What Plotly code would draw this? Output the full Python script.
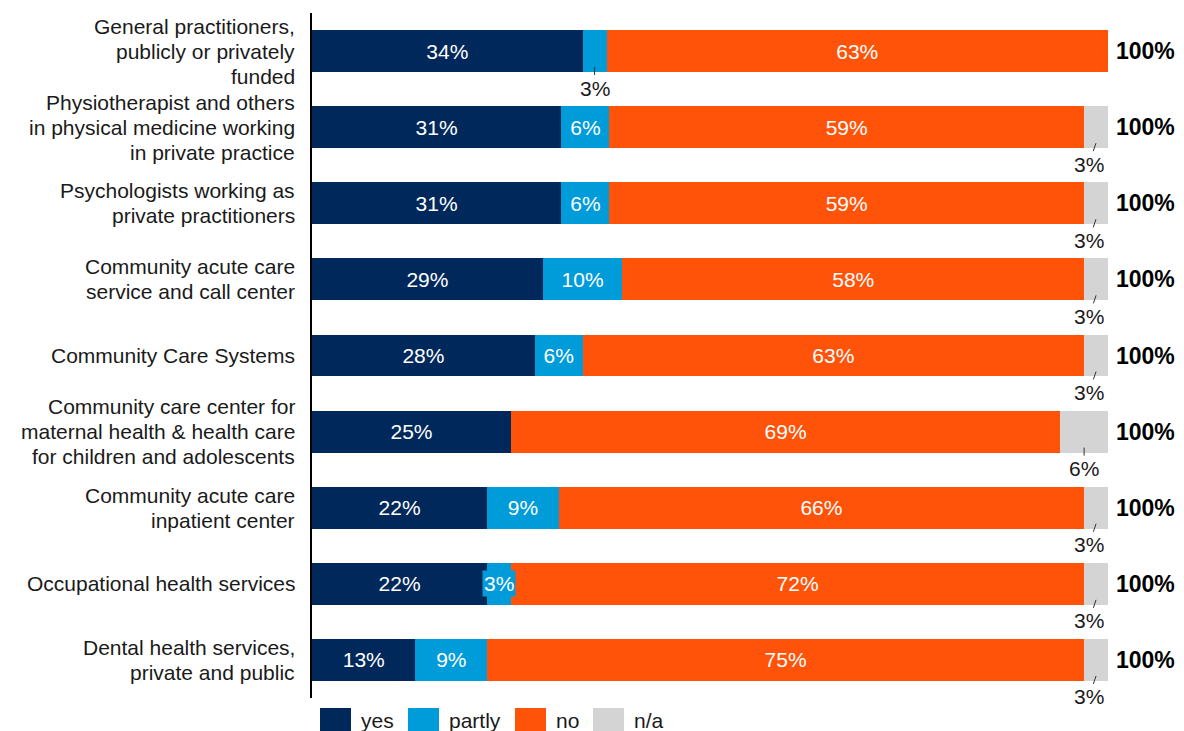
import plotly.graph_objects as go

# Survey answers per service (share of respondents, %)
categories = [
    "General practitioners,<br>publicly or privately<br>funded",
    "Physiotherapist and others<br>in physical medicine working<br>in private practice ",
    "Psychologists working as<br>private practitioners ",
    "Community acute care<br>service and call center",
    "Community Care Systems",
    "Community care center for<br>maternal health & health care<br>for children and adolescents",
    "Community acute care<br>inpatient center ",
    "Occupational health services",
    "Dental health services,<br>private and public",
]
yes_vals = [34, 31, 31, 29, 28, 25, 22, 22, 13]
partly_vals = [3, 6, 6, 10, 6, 0, 9, 3, 9]
no_vals = [63, 59, 59, 58, 63, 69, 66, 72, 75]
na_vals = [0, 3, 3, 3, 3, 6, 3, 3, 3]
total_labels = ["100%"] * 9

series = [
    ("yes", yes_vals, "#00285A"),
    ("partly", partly_vals, "#009BD9"),
    ("no", no_vals, "#FE5309"),
    ("n/a", na_vals, "#D4D4D4"),
]

FONT = "Liberation Sans, Arial, sans-serif"
TXT = "#1a1a1a"

# Small segments whose labels sit outside / on a box: (series, row)
outside = {("partly", 0), ("n/a", 1), ("n/a", 2), ("n/a", 3), ("n/a", 4),
           ("n/a", 5), ("n/a", 6), ("n/a", 7), ("n/a", 8)}
boxed = {("partly", 7)}

fig = go.Figure()
for name, vals, color in series:
    texts = []
    for i, v in enumerate(vals):
        if v == 0 or (name, i) in outside or (name, i) in boxed:
            texts.append("")
        else:
            texts.append(f"{v}%")
    fig.add_trace(go.Bar(
        name=name, y=categories, x=vals, orientation="h",
        marker=dict(color=color, line=dict(width=0)),
        width=0.55, text=texts, textposition="inside",
        insidetextanchor="middle", textangle=0, constraintext="none",
        textfont=dict(family=FONT, size=21, color="white"),
        hoverinfo="skip", showlegend=False,
    ))

annotations = []
totals = [sum(s[1][i] for s in series) for i in range(len(categories))]
for si, (name, vals, color) in enumerate(series):
    for i, v in enumerate(vals):
        if v == 0:
            continue
        before = sum(series[k][1][i] for k in range(si))
        mid = (before + v / 2) / totals[i] * 100
        if (name, i) in outside:
            vertical = (name == "partly") or v >= 5
            annotations.append(dict(
                x=mid, y=categories[i], xref="x", yref="y",
                text=f"{v}%", showarrow=True, arrowhead=0, arrowwidth=1,
                arrowcolor="#333", ax=0 if vertical else -7, ay=21,
                yshift=-16, font=dict(family=FONT, size=21, color=TXT),
            ))
        elif (name, i) in boxed:
            annotations.append(dict(
                x=mid, y=categories[i], xref="x", yref="y",
                text=f"{v}%", showarrow=False, bgcolor=color, borderpad=1,
                font=dict(family=FONT, size=21, color="white"),
            ))

# Row totals to the right of the bars
for i, lab in enumerate(total_labels):
    annotations.append(dict(
        x=100, y=categories[i], xref="x", yref="y", text=f"<b>{lab}</b>",
        showarrow=False, xanchor="left", xshift=6,
        font=dict(family=FONT, size=23, color="black"),
    ))

# Category labels, one line at a time for a tighter line pitch
LINE_PITCH = 25
for cat in categories:
    lines = cat.split("<br>")
    n = len(lines)
    for k, line in enumerate(lines):
        annotations.append(dict(
            x=0, y=cat, xref="paper", yref="y", text=line.rstrip(),
            showarrow=False, xanchor="right", yanchor="middle", xshift=-15,
            yshift=((n - 1) / 2 - k) * LINE_PITCH,
            font=dict(family=FONT, size=21, color=TXT),
        ))

# Legend drawn as swatches with labels below the plot
plot_left, plot_w = 312, 796
plot_bottom, plot_h = 698, 685


def px_x(p):
    return (p - plot_left) / plot_w


def px_y(p):
    return (plot_bottom - p) / plot_h


shapes = []
legend_x = [320, 408, 515, 593]
for (name, vals, color), lx in zip(series, legend_x):
    shapes.append(dict(type="rect", xref="paper", yref="paper",
                       x0=px_x(lx), x1=px_x(lx + 31), y0=px_y(731), y1=px_y(708),
                       fillcolor=color, line=dict(width=0)))
    annotations.append(dict(x=px_x(lx + 39), y=px_y(720), xref="paper", yref="paper",
                            text=name, showarrow=False, xanchor="left", yanchor="middle",
                            font=dict(family=FONT, size=21, color=TXT)))

fig.update_layout(
    barmode="stack", barnorm="percent",
    width=1184, height=731,
    margin=dict(l=312, r=76, t=13, b=33),
    paper_bgcolor="white", plot_bgcolor="white",
    font=dict(family=FONT, size=21, color=TXT),
    xaxis=dict(range=[0, 100], visible=False, fixedrange=True),
    yaxis=dict(type="category", categoryarray=categories,
               range=[len(categories) - 0.5, -0.5],
               showline=True, linecolor="black", linewidth=1.5, ticks="",
               showgrid=False, showticklabels=False),
    annotations=annotations, shapes=shapes,
    showlegend=False,
)

fig.write_html("out.html")
